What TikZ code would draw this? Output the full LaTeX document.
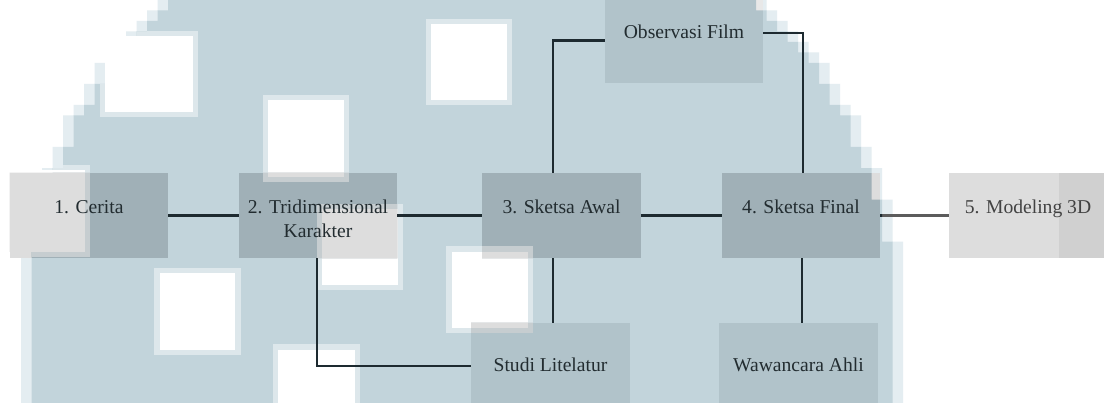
\documentclass[tikz,border=0pt]{standalone}
\usepackage{fontspec}
\setmainfont{Liberation Serif}
\usetikzlibrary{backgrounds}

% palette
\definecolor{wmblue}{RGB}{194,212,219}
\definecolor{wmedge}{RGB}{221,231,235}
\definecolor{wmrim}{RGB}{228,237,241}
\definecolor{boxlight}{RGB}{221,221,221}
\definecolor{boxdark}{RGB}{160,176,183}
\definecolor{subdark}{RGB}{177,195,202}
\definecolor{sublight}{RGB}{232,232,232}
\definecolor{holering}{RGB}{198,205,208}
\definecolor{bandgray}{RGB}{208,208,208}
\definecolor{linkdark}{RGB}{29,42,48}
\definecolor{linkgray}{RGB}{92,92,92}
\definecolor{ink}{RGB}{34,44,48}
\definecolor{inkgray}{RGB}{66,66,66}

\tikzset{
  stage/.style={rectangle, inner sep=0pt, minimum width=118.5pt, minimum height=63.75pt,
    text height=10pt, text depth=12.4pt,
    font=\fontsize{14.7pt}{18pt}\selectfont, text=ink},
  source/.style={stage, minimum height=75pt},
  link/.style={draw=linkdark, line width=1.65pt},
}

% half width of the round backdrop on row #1 (rows of 10.5 px)
\newcommand\halfw[1]{434*sqrt(max(0,1-((#1*10.5+5.25-330)/447)^2))}
% the backdrop as a stack of coarse pixel rows, widened by #1 blocks per side
\newcommand\backdropgrown[1]{%
  foreach \i in {0,...,38}{
    ({(round((462-\halfw{\i})/10.5)-#1)*10.5}, {\i*10.5})
    rectangle
    ({(round((462+\halfw{\i})/10.5)+#1)*10.5}, {\i*10.5+10.5})
  }}
\newcommand\backdrop{\backdropgrown{0}}

% square openings in the backdrop: soft outer rim and clear core
\newcommand\openinglist{
      100/31/198/117/105/36/193/112,
      263/95/349/182/268/100/344/177,
      426/19/512/105/431/24/507/100,
      -10/165/90/257/-10/170/85/252,
      317/204/403/290/322/209/398/285,
      446/246/533/333/452/252/528/328,
      154/268/241/355/160/273/235/350,
      273/344/360/410/278/350/355/410}
\newcommand\openingrims[1]{%
  \foreach \ox/\oy/\px/\py/\cx/\cy/\dx/\dy in \openinglist
    \fill[#1] (\ox,\oy) rectangle (\px,\py);}
\newcommand\openingcores[1]{%
  \foreach \ox/\oy/\px/\py/\cx/\cy/\dx/\dy in \openinglist
    \fill[#1] (\cx,\cy) rectangle (\dx,\dy);}

\begin{document}
\begin{tikzpicture}[x=0.75pt, y=-0.75pt]
\useasboundingbox (0,0) rectangle (1104,403);

% stages of the process
\node[stage] (n1) at (89,215.5) {1. Cerita};
\node[stage] (n2) at (318,215.5) {\begin{tabular}[t]{@{}c@{}}2. Tridimensional\\Karakter\end{tabular}};
\node[stage] (n3) at (561.5,215.5) {3. Sketsa Awal};
\node[stage] (n4) at (801,215.5) {4. Sketsa Final};
\node[stage, text=inkgray] (n5) at (1028,215.5) {5. Modeling 3D};

% supporting sources
\node[stage] (obs) at (684,40.5) {Observasi Film};
\node[source] (studi) at (550.5,373) {Studi Litelatur};
\node[source] (waw) at (798.5,373) {Wawancara Ahli};

\begin{scope}[on background layer]
  \fill[white] (0,0) rectangle (1104,403);
  % backdrop with a soft stepped rim and its openings
  \fill[wmrim] \backdropgrown{1};
  \fill[wmblue] \backdrop;
  \begin{scope}
    \clip \backdrop;
    \openingrims{wmedge}
  \end{scope}
  \openingcores{white}
  % box fills on plain paper
  \foreach \b in {n1,n2,n3,n4,n5}
    \fill[boxlight] (\b.south west) rectangle (\b.north east);
  \fill[bandgray] ([xshift=-36pt]n5.north east) rectangle (n5.south east);
  \foreach \b in {obs,studi,waw}
    \fill[sublight] (\b.south west) rectangle (\b.north east);
  % box fills where they sit on the backdrop
  \begin{scope}
    \clip \backdrop;
    \foreach \b in {n1,n2,n3,n4,n5}
      \fill[boxdark] (\b.south west) rectangle (\b.north east);
    \foreach \b in {obs,studi,waw}
      \fill[subdark] (\b.south west) rectangle (\b.north east);
  \end{scope}
  % openings seen through the boxes
  \begin{scope}
    \clip (n1.south west) rectangle (n1.north east)
          (n2.south west) rectangle (n2.north east)
          (n3.south west) rectangle (n3.north east)
          (n4.south west) rectangle (n4.north east)
          (studi.south west) rectangle (studi.north east);
    \begin{scope}
      \clip \backdrop;
      \openingrims{holering}
    \end{scope}
    \openingcores{boxlight}
  \end{scope}
\end{scope}

% main sequence
\draw[link] (n1) -- (n2);
\draw[link] (n2) -- (n3);
\draw[link] (n3) -- (n4);
\draw[link, draw=linkgray] (n4) -- (n5);
\begin{scope}
  \clip \backdrop;
  \draw[link] (n4) -- (n5);
\end{scope}

% sources feeding the sketches
\draw[link] ([xshift=-6.4pt]n3.north) |- (obs.west);
\draw[link] ([yshift=5.6pt]obs.east) -| ([xshift=1.5pt]n4.north);
\draw[link] ([xshift=-0.75pt]n2.south) |- ([yshift=5.25pt]studi.west);
\draw[link] ([xshift=-6.4pt]n3.south) -- ([xshift=-6.4pt]n3.south |- studi.north);
\draw[link] ([xshift=0.75pt]n4.south) -- ([xshift=0.75pt]n4.south |- waw.north);
\end{tikzpicture}
\end{document}
